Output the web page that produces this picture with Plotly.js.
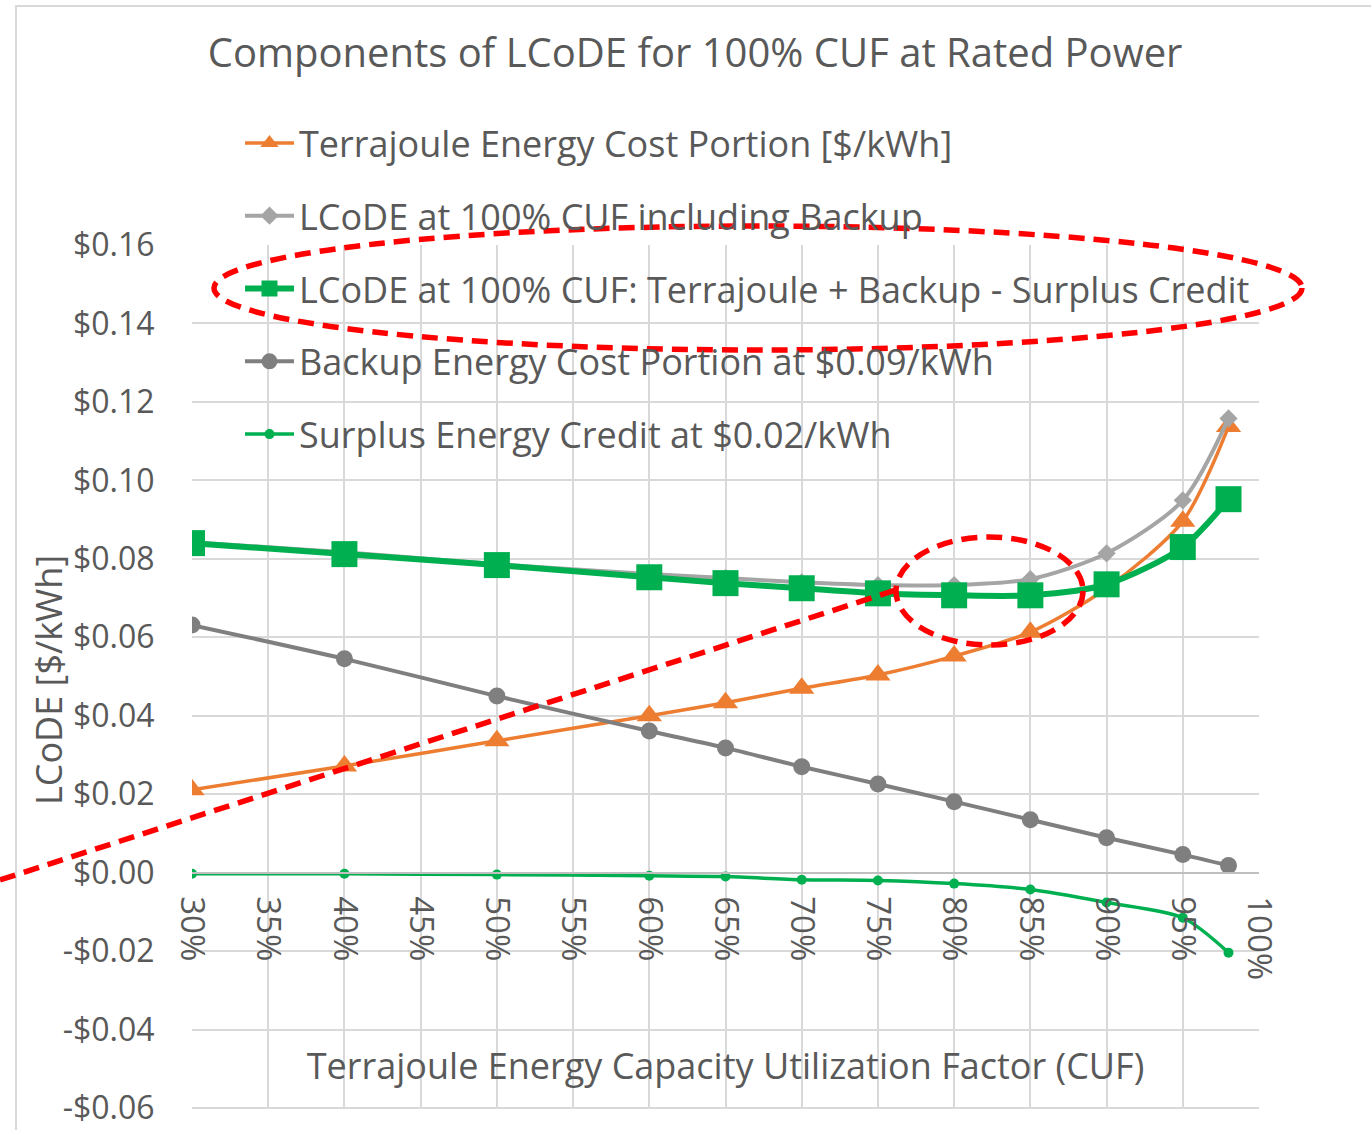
<!DOCTYPE html>
<html>
<head>
<meta charset="utf-8">
<script src="https://cdn.plot.ly/plotly-3.0.1.min.js"></script>
<style>
  html, body { margin: 0; padding: 0; background: #ffffff; }
  #chart { width: 1371px; height: 1130px; }
</style>
</head>
<body>
<div id="chart"></div>
<script>
// ---- Data ----
const cuf = [0.30, 0.40, 0.50, 0.60, 0.65, 0.70, 0.75, 0.80, 0.85, 0.90, 0.95, 0.98];
const terrajouleCost = [0.0211, 0.0272, 0.0336, 0.0400, 0.0433, 0.0470, 0.0504, 0.0552, 0.0613, 0.0725, 0.0896, 0.1137];
const lcodeInclBackup = [0.0842, 0.0817, 0.0786, 0.0761, 0.0751, 0.0740, 0.0733, 0.0733, 0.0748, 0.0814, 0.0949, 0.1158];
const lcodeNet = [0.0840, 0.0812, 0.0784, 0.0753, 0.0738, 0.0725, 0.0712, 0.0707, 0.0707, 0.0735, 0.0830, 0.0952];
const backupCost = [0.0631, 0.0545, 0.0450, 0.0361, 0.0318, 0.0270, 0.0226, 0.0181, 0.0135, 0.0089, 0.0046, 0.0018];
const surplusCredit = [-0.0003, -0.0003, -0.0005, -0.0008, -0.0010, -0.0018, -0.0020, -0.0028, -0.0043, -0.0076, -0.0115, -0.0204];

const seriesNames = [
  'Terrajoule Energy Cost Portion [$/kWh]',
  'LCoDE at 100% CUF including Backup',
  'LCoDE at 100% CUF: Terrajoule + Backup - Surplus Credit',
  'Backup Energy Cost Portion at $0.09/kWh',
  'Surplus Energy Credit at $0.02/kWh'
];

const xTickVals = [0.30, 0.35, 0.40, 0.45, 0.50, 0.55, 0.60, 0.65, 0.70, 0.75, 0.80, 0.85, 0.90, 0.95, 1.00];
const xTickLabels = ['30%', '35%', '40%', '45%', '50%', '55%', '60%', '65%', '70%', '75%', '80%', '85%', '90%', '95%', '100%'];
const yTickVals = [-0.06, -0.04, -0.02, 0.00, 0.02, 0.04, 0.06, 0.08, 0.10, 0.12, 0.14, 0.16];
const yTickLabels = ['-$0.06', '-$0.04', '-$0.02', '$0.00', '$0.02', '$0.04', '$0.06', '$0.08', '$0.10', '$0.12', '$0.14', '$0.16'];

const titleText = 'Components of LCoDE for 100% CUF at Rated Power';
const xTitle = 'Terrajoule Energy Capacity Utilization Factor (CUF)';
const yTitle = 'LCoDE [$/kWh]';

// ---- Styling ----
const FONT = '"Open Sans", "Noto Sans", sans-serif';
const TEXT = '#595959';
const GRID = '#D9D9D9';

function tr(y, name, color, width, symbol, size, group) {
  return {
    x: cuf, y: y, name: name, type: 'scatter', mode: 'lines+markers',
    legendgroup: group,
    line: { color: color, width: width, shape: 'spline', smoothing: 0.8 },
    marker: { color: color, symbol: symbol, size: size, line: { width: 0 } },
    hoverinfo: 'x+y+name'
  };
}

const data = [
  tr(terrajouleCost, seriesNames[0], '#ED7D31', 3.5, 'triangle-up', 22, 'g1'),
  tr(lcodeInclBackup, seriesNames[1], '#A5A5A5', 4, 'diamond', 14, 'g2'),
  tr(lcodeNet, seriesNames[2], '#00B050', 6, 'square', 26, 'g3'),
  tr(backupCost, seriesNames[3], '#7F7F7F', 4, 'circle', 17, 'g4'),
  tr(surplusCredit, seriesNames[4], '#00B050', 3.5, 'circle', 10, 'g5')
];

// pixel -> paper helpers for the hand-drawn red overlays (plot area: 192..1259 x, 245..1108 y)
const PL = 192, PR = 1259, PT = 245, PB = 1108;
const px = v => (v - PL) / (PR - PL);
const py = v => (PB - v) / (PB - PT);

const redDash = { color: '#FF0000', width: 5.5, dash: '16px,9px' };

const layout = {
  width: 1371, height: 1130,
  paper_bgcolor: '#ffffff', plot_bgcolor: '#ffffff',
  margin: { l: PL, r: 1371 - PR, t: PT, b: 1130 - PB, pad: 0 },
  font: { family: FONT, color: TEXT, size: 30 },
  title: {
    text: titleText,
    font: { family: FONT, size: 40, color: TEXT },
    x: 0.507, xanchor: 'center', xref: 'container',
    y: 1 - 53 / 1130, yanchor: 'middle', yref: 'container'
  },
  xaxis: {
    range: [0.30, 1.00],
    tickvals: xTickVals, ticktext: xTickLabels,
    tickangle: 90,
    tickfont: { family: FONT, size: 33, color: TEXT },
    ticks: 'outside', ticklen: 16, tickcolor: 'rgba(0,0,0,0)',
    showgrid: true, gridcolor: GRID, gridwidth: 2,
    zeroline: false,
    showline: true, linecolor: '#BFBFBF', linewidth: 2,
    anchor: 'free', position: 0.06 / 0.22,
    title: { text: xTitle, font: { family: FONT, size: 36, color: TEXT }, standoff: 74 },
    fixedrange: true
  },
  yaxis: {
    range: [-0.06, 0.16],
    tickvals: yTickVals, ticktext: yTickLabels,
    tickfont: { family: FONT, size: 32, color: TEXT },
    ticks: 'outside', ticklen: 30, tickcolor: 'rgba(0,0,0,0)',
    ticklabeloverflow: 'allow',
    showgrid: true, gridcolor: GRID, gridwidth: 2,
    zeroline: false, showline: false,
    fixedrange: true
  },
  annotations: [
    { text: yTitle, xref: 'paper', yref: 'paper', x: px(48), y: py(680),
      xanchor: 'center', yanchor: 'middle', textangle: -90, showarrow: false,
      font: { family: FONT, size: 36, color: TEXT } }
  ],
  showlegend: true,
  legend: {
    x: px(240), xanchor: 'left',
    y: py(113), yanchor: 'top',
    bgcolor: 'rgba(0,0,0,0)',
    font: { family: FONT, size: 36, color: TEXT },
    traceorder: 'grouped',
    tracegroupgap: 23,
    itemwidth: 49
  },
  shapes: [
    // outer chart frame
    { type: 'rect', xref: 'paper', yref: 'paper', x0: px(16), x1: px(1400), y0: py(1160), y1: py(6),
      line: { color: '#D9D9D9', width: 2 }, fillcolor: 'rgba(0,0,0,0)', layer: 'below' },
    // bottom gridline of plot area
    { type: 'line', xref: 'paper', yref: 'paper', x0: 0, x1: 1, y0: 0, y1: 0,
      line: { color: GRID, width: 2 }, layer: 'below' },
    // big dashed ellipse around legend item
    { type: 'circle', xref: 'paper', yref: 'paper', x0: px(214), x1: px(1302), y0: py(350), y1: py(226),
      line: redDash, fillcolor: 'rgba(0,0,0,0)', layer: 'above' },
    // small dashed ellipse around minimum
    { type: 'circle', xref: 'paper', yref: 'paper', x0: px(896), x1: px(1083), y0: py(645), y1: py(537),
      line: redDash, fillcolor: 'rgba(0,0,0,0)', layer: 'above' },
    // dashed pointer line
    { type: 'line', xref: 'paper', yref: 'paper', x0: px(0), y0: py(880), x1: px(896), y1: py(590),
      line: redDash, layer: 'above' }
  ]
};

Plotly.newPlot('chart', data, layout, { displayModeBar: false, staticPlot: false });
</script>
</body>
</html>
